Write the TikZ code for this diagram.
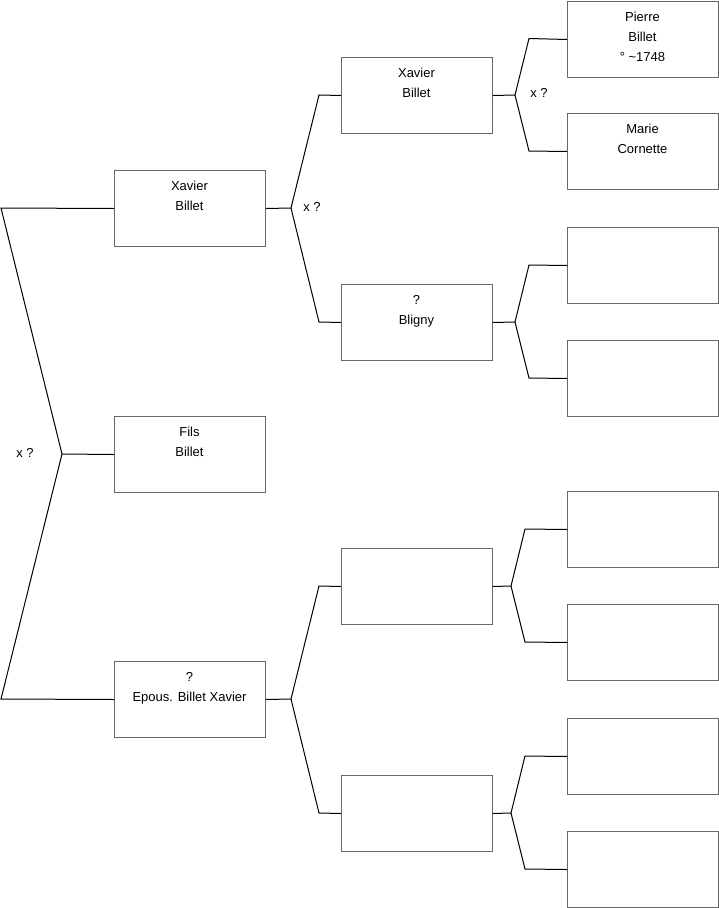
\documentclass[tikz,border=0pt]{standalone}
\usepackage{fontspec}
\setmainfont{Liberation Sans}
\newcommand{\stk}[1]{\begin{tabular}[t]{@{}c@{}}#1\end{tabular}}
\begin{document}
\begin{tikzpicture}[x=1pt,y=-1pt,
  box/.style={draw=black!60,line width=1pt,minimum width=151pt,minimum height=76pt,inner sep=0pt,anchor=north west,fill=white},
  lbl/.style={anchor=base,inner sep=0pt,font=\fontsize{13}{20}\selectfont},
  conn/.style={draw=black,line width=1pt}]
\useasboundingbox (0,0) rectangle (719,908);
% column 1
\node[box] (a1) at (114,170) {};
\node[box] (a2) at (114,416) {};
\node[box] (a3) at (114,661) {};
% column 2
\node[box] (b1) at (341,57) {};
\node[box] (b2) at (341,284) {};
\node[box] (b3) at (341,548) {};
\node[box] (b4) at (341,775) {};
% column 3
\node[box] (c1) at (567,1) {};
\node[box] (c2) at (567,113) {};
\node[box] (c3) at (567,227) {};
\node[box] (c4) at (567,340) {};
\node[box] (c5) at (567,491) {};
\node[box] (c6) at (567,604) {};
\node[box] (c7) at (567,718) {};
\node[box] (c8) at (567,831) {};
% texts
\node[lbl] (ta1) at (189.5,190) {\stk{Xavier\\Billet}};
\node[lbl] (ta2) at (189.5,436) {\stk{Fils\\Billet}};
\node[lbl] (ta3) at (189.5,681) {\stk{?\\Epous. Billet Xavier}};
\node[lbl] (tb1) at (416.5,77) {\stk{Xavier\\Billet}};
\node[lbl] (tb2) at (416.5,304) {\stk{?\\Bligny}};
\node[lbl] (tc1) at (642.5,21) {\stk{Pierre\\Billet\\° \textasciitilde1748}};
\node[lbl] (tc2) at (642.5,133) {\stk{Marie\\Cornette}};
% x ? labels
\node[lbl] (x0) at (25,457) {x ?};
\node[lbl] (x1) at (312,211) {x ?};
\node[lbl] (x2) at (539,97) {x ?};
% main bracket
\coordinate (L1) at (1,208);
\coordinate (L2) at (1,699);
\coordinate (F0) at (62,454);
\draw[conn] (a1.west) -- (L1) -- (F0) -- (L2) -- (a3.west);
\draw[conn] (F0) -- (a2.west);
% bracket a1
\coordinate (F1) at (291,208);
\coordinate (F1t) at (319,95);
\coordinate (F1b) at (319,322);
\draw[conn] (a1.east) -- (F1) -- (F1t) -- (b1.west);
\draw[conn] (F1) -- (F1b) -- (b2.west);
% bracket a3
\coordinate (F2) at (291,699);
\coordinate (F2t) at (319,586);
\coordinate (F2b) at (319,813);
\draw[conn] (a3.east) -- (F2) -- (F2t) -- (b3.west);
\draw[conn] (F2) -- (F2b) -- (b4.west);
% bracket b1
\coordinate (G1) at (515,95);
\coordinate (G1t) at (529,38.5);
\coordinate (G1b) at (529,151);
\draw[conn] (b1.east) -- (G1) -- (G1t) -- (c1.west);
\draw[conn] (G1) -- (G1b) -- (c2.west);
% bracket b2
\coordinate (G2) at (515,322);
\coordinate (G2t) at (529,265);
\coordinate (G2b) at (529,378);
\draw[conn] (b2.east) -- (G2) -- (G2t) -- (c3.west);
\draw[conn] (G2) -- (G2b) -- (c4.west);
% bracket b3
\coordinate (G3) at (511,586);
\coordinate (G3t) at (525,529);
\coordinate (G3b) at (525,642);
\draw[conn] (b3.east) -- (G3) -- (G3t) -- (c5.west);
\draw[conn] (G3) -- (G3b) -- (c6.west);
% bracket b4
\coordinate (G4) at (511,813);
\coordinate (G4t) at (525,756);
\coordinate (G4b) at (525,869);
\draw[conn] (b4.east) -- (G4) -- (G4t) -- (c7.west);
\draw[conn] (G4) -- (G4b) -- (c8.west);
\end{tikzpicture}
\end{document}
